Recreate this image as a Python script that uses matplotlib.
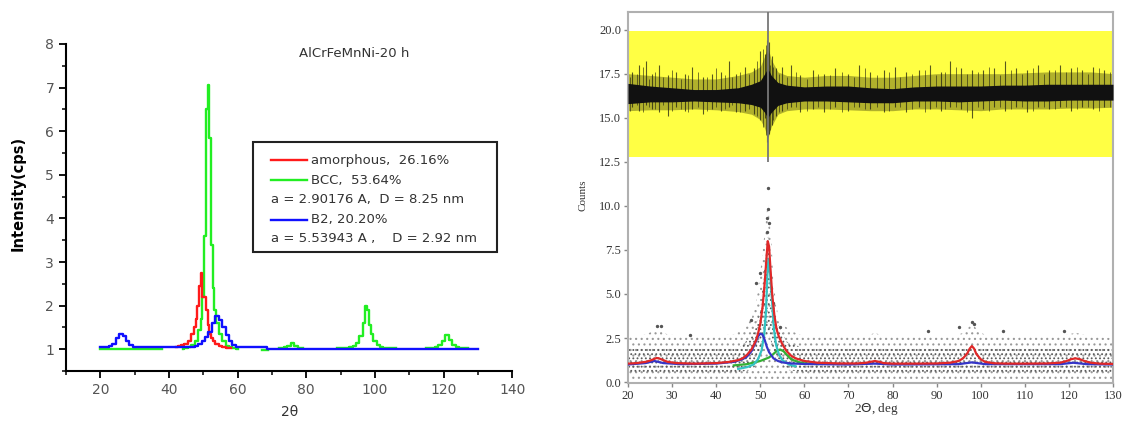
import numpy as np
import matplotlib
matplotlib.use('Agg')
import matplotlib.pyplot as plt
from matplotlib.patches import Rectangle
from matplotlib.ticker import MultipleLocator

# ---- left panel: stepped phase profiles ----
green_a_x = [20, 38]
green_a_y = [1.0, 1.0]
green_b_x = [44, 45, 46, 47, 48, 49, 49.5, 50, 50.5, 51, 51.5, 52, 52.5, 53, 53.5, 54, 55, 56, 57, 58, 59, 60]
green_b_y = [1.0, 1.02, 1.05, 1.1, 1.2, 1.45, 1.7, 2.2, 3.6, 6.5, 7.05, 5.85, 3.4, 2.4, 1.9, 1.6, 1.35, 1.18, 1.08, 1.04, 1.02, 1.0]
green_c_x = [67, 69]
green_c_y = [0.99, 0.99]
green_d_x = [72, 73, 74, 75, 76, 77, 78, 79]
green_d_y = [1.02, 1.02, 1.04, 1.08, 1.14, 1.08, 1.03, 1.02]
green_e_x = [89, 90, 91, 92, 93, 94, 95, 96, 97, 97.5, 98, 98.5, 99, 100, 101, 102, 103, 104, 105, 106]
green_e_y = [1.03, 1.03, 1.03, 1.03, 1.05, 1.08, 1.14, 1.3, 1.6, 1.99, 1.9, 1.55, 1.35, 1.18, 1.1, 1.05, 1.03, 1.03, 1.03, 1.03]
green_f_x = [115, 116, 117, 118, 119, 120, 121, 122, 123, 124, 125, 126, 127]
green_f_y = [1.03, 1.03, 1.03, 1.05, 1.1, 1.2, 1.33, 1.22, 1.1, 1.05, 1.03, 1.03, 1.03]

red_x = [42, 43, 44, 45, 46, 47, 47.5, 48, 48.5, 49, 49.5, 50, 50.5, 51, 51.5, 52, 52.5, 53, 54, 55, 56, 57, 58]
red_y = [1.06, 1.07, 1.09, 1.13, 1.2, 1.35, 1.5, 1.7, 2.0, 2.45, 2.75, 2.2, 2.2, 1.9, 1.55, 1.35, 1.25, 1.18, 1.12, 1.08, 1.05, 1.03, 1.02]

blue_x = [20, 21, 22, 23, 24, 25, 26, 27, 28, 29, 30, 31, 35, 40, 45, 46, 47, 48, 49, 50, 51, 52, 53, 54, 55, 56, 57, 58, 59, 60, 61, 68, 69, 130]
blue_y = [1.04, 1.04, 1.04, 1.08, 1.13, 1.25, 1.34, 1.3, 1.18, 1.1, 1.05, 1.04, 1.04, 1.04, 1.04, 1.05, 1.06, 1.08, 1.12, 1.18, 1.28, 1.4, 1.6, 1.76, 1.68, 1.5, 1.32, 1.18, 1.1, 1.05, 1.04, 1.04, 1.0, 1.0]

legend_labels = ['amorphous,  26.16%', 'BCC,  53.64%', 'a = 2.90176 A,  D = 8.25 nm',
                 'B2, 20.20%', 'a = 5.53943 A ,    D = 2.92 nm']

# ---- right panel: fit curves ----
rfit_x = [20, 22, 24, 25, 26, 26.5, 27, 28, 29, 31, 35, 40, 43, 45, 46, 47, 48, 49, 49.5, 50,
          50.5, 51, 51.4, 51.7, 52, 52.3, 52.7, 53.2, 53.7, 54.2, 55, 56, 57, 58, 60, 63, 68, 72, 74, 75,
          76, 77, 78, 80, 85, 90, 93, 95, 96, 97, 97.5, 98, 98.5, 99, 100, 101, 103, 106, 110, 115,
          118, 119.5, 120.5, 121.5, 122.5, 123.5, 125, 127, 130]
rfit_y = [1.05, 1.08, 1.15, 1.22, 1.32, 1.37, 1.35, 1.25, 1.15, 1.08, 1.05, 1.08, 1.15, 1.25, 1.35, 1.55, 1.85, 2.35, 2.75, 3.3,
          4.2, 5.6, 7.0, 8.0, 7.7, 6.5, 5.0, 3.8, 3.0, 2.6, 2.15, 1.75, 1.5, 1.35, 1.2, 1.1, 1.06, 1.06, 1.1, 1.15,
          1.2, 1.15, 1.08, 1.05, 1.05, 1.06, 1.1, 1.2, 1.35, 1.65, 1.9, 2.05, 1.9, 1.6, 1.3, 1.15, 1.07, 1.05, 1.05, 1.06,
          1.1, 1.2, 1.3, 1.35, 1.3, 1.2, 1.1, 1.05, 1.03]
bfit_x = [20, 24, 26, 28, 32, 40, 44, 46, 47, 48, 49, 49.5, 50, 50.5, 51, 51.5, 52, 53, 54, 55,
          57, 60, 70, 76, 80, 95, 98, 101, 118, 121, 124, 130]
bfit_y = [1.0, 1.08, 1.2, 1.08, 1.02, 1.05, 1.15, 1.3, 1.45, 1.75, 2.3, 2.6, 2.75, 2.7, 2.4, 2.0, 1.7, 1.35, 1.2, 1.12,
          1.06, 1.03, 1.0, 1.05, 1.0, 1.02, 1.12, 1.02, 1.02, 1.1, 1.02, 1.0]
cfit_x = [45, 47, 48.5, 49.5, 50.3, 50.9, 51.3, 51.6, 51.85, 52.2, 52.7, 53.1, 53.6, 54.2, 55, 56.5, 58]
cfit_y = [0.75, 0.85, 1.0, 1.3, 1.8, 2.7, 4.0, 6.0, 7.0, 6.3, 4.5, 3.0, 2.1, 1.6, 1.25, 1.0, 0.9]
gfit_x = [44, 47, 50, 52, 53, 53.8, 54.5, 55.3, 56, 57, 58.5, 60, 63]
gfit_y = [0.95, 1.02, 1.2, 1.4, 1.6, 1.78, 1.85, 1.75, 1.55, 1.3, 1.15, 1.07, 1.02]

# observed counts: envelope of the scattered points
scat_x = [20, 24, 26.5, 29, 35, 44, 46, 48, 49, 50, 51, 51.7, 52.5, 53, 54, 55, 57, 60, 74, 76,
          78, 94, 96, 98, 100, 102, 118, 121.5, 125, 130]
scat_lo = [0.15] * 30
scat_hi = [2.6, 2.7, 3.0, 2.7, 2.6, 2.7, 3.0, 3.6, 4.4, 6.2, 8.5, 10.2, 8.2, 5.6, 3.8, 3.3, 2.9, 2.6, 2.6, 2.8,
           2.6, 2.6, 2.8, 3.3, 2.8, 2.6, 2.6, 2.8, 2.6, 2.5]
core_x = [20, 45, 48, 50, 51.7, 53.5, 56, 60, 130]
core_lo = [0.55, 0.55, 0.7, 1.2, 3.0, 1.3, 0.7, 0.55, 0.55]
core_hi = [1.9, 1.9, 2.6, 4.0, 8.5, 3.5, 2.3, 1.9, 1.9]
outlier_x = [51.7, 51.8, 51.6, 52.0, 51.5, 50.0, 49.0, 53.0, 48.0, 54.5, 26.5, 27.5, 98.0, 98.5, 119.0, 95.0, 88.0, 105.0, 34.0]
outlier_y = [11.0, 9.8, 9.3, 9.0, 8.5, 6.2, 5.6, 4.5, 3.5, 3.1, 3.2, 3.2, 3.4, 3.3, 2.9, 3.1, 2.9, 2.9, 2.7]

# residual (offset) envelope
res_x = [20, 25, 30, 35, 40, 45, 48, 50, 51, 51.7, 52.5, 54, 56, 60, 65, 70, 75, 80, 85, 90,
         95, 100, 105, 110, 115, 120, 125, 130]
res_core_lo = [15.8, 15.9, 15.9, 15.95, 15.9, 15.85, 15.75, 15.6, 15.3, 15.0, 15.3, 15.7, 15.85, 15.95, 15.95, 15.9, 15.85, 15.85, 15.95, 15.95,
               15.9, 15.95, 16.0, 15.95, 15.95, 16.0, 16.0, 16.0]
res_core_hi = [16.95, 16.8, 16.7, 16.6, 16.6, 16.7, 16.9, 17.1, 17.5, 17.8, 17.4, 17.0, 16.85, 16.75, 16.8, 16.8, 16.7, 16.65, 16.75, 16.8,
               16.8, 16.8, 16.85, 16.85, 16.9, 16.9, 16.9, 16.9]
res_out_lo = [15.4, 15.45, 15.45, 15.5, 15.45, 15.35, 15.2, 14.9, 14.4, 13.8, 14.5, 15.2, 15.4, 15.5, 15.5, 15.45, 15.4, 15.4, 15.5, 15.5,
              15.45, 15.4, 15.5, 15.5, 15.5, 15.55, 15.55, 15.6]
res_out_hi = [17.5, 17.4, 17.3, 17.2, 17.2, 17.4, 17.6, 17.9, 18.5, 19.0, 18.3, 17.6, 17.4, 17.3, 17.4, 17.4, 17.3, 17.3, 17.4, 17.5,
              17.5, 17.5, 17.5, 17.55, 17.6, 17.6, 17.6, 17.5]
spike_x = [21, 22.5, 24, 25.5, 27, 29, 31, 33, 34.5, 37, 39, 41, 43, 44.5, 46.5, 48.5, 50, 51, 51.5, 52,
           52.6, 53.5, 55, 57, 59, 62, 64.5, 67, 70, 72.5, 75, 78, 80.5, 83, 86, 88.5, 91, 93, 95.5, 98,
           100.5, 103, 105.5, 108, 110.5, 113, 115.5, 118, 120.5, 123, 125.5, 128]
spike_lo = [15.6, 15.4, 15.7, 15.5, 15.3, 15.1, 15.6, 15.4, 15.5, 15.2, 15.5, 15.4, 15.6, 15.3, 15.4, 15.2, 14.9, 15.0, 13.6, 14.1,
            14.6, 15.1, 15.4, 15.6, 15.3, 15.5, 15.3, 15.6, 15.4, 15.6, 15.5, 15.3, 15.6, 15.3, 15.6, 15.5, 15.4, 15.6, 15.5, 15.0,
            15.5, 15.6, 15.4, 15.6, 15.3, 15.6, 15.5, 15.6, 15.4, 15.6, 15.5, 15.6]
spike_hi = [17.6, 18.0, 18.2, 17.5, 18.0, 17.4, 17.6, 17.5, 17.9, 17.3, 17.5, 17.6, 18.2, 17.5, 17.9, 17.8, 18.8, 18.6, 19.4, 19.3,
            18.5, 17.8, 17.9, 18.0, 17.4, 17.7, 17.5, 17.8, 17.5, 18.0, 17.6, 17.7, 17.9, 17.6, 17.7, 18.0, 17.6, 18.2, 17.8, 17.7,
            17.7, 17.8, 18.2, 17.8, 17.7, 18.0, 17.7, 18.0, 17.8, 17.7, 17.9, 17.7]
fine_x = [20.5, 22, 23.3, 24.7, 26.2, 28, 30, 32, 33.7, 35.8, 38, 40, 42, 43.7, 45.5, 47.5, 49.3, 50.6, 51.2, 51.8,
          52.3, 53, 54.2, 56, 58, 60.5, 63, 65.8, 68.5, 71.3, 73.8, 76.5, 79.3, 81.8, 84.5, 87.3, 89.8, 92, 94.3, 96.8,
          99.3, 101.8, 104.3, 106.8, 109.3, 111.8, 114.3, 116.8, 119.3, 121.8, 124.3, 126.8, 129.3]
fine_lo = [15.4, 15.7, 15.3, 15.6, 15.5, 15.7, 15.4, 15.5, 15.3, 15.6, 15.4, 15.6, 15.5, 15.7, 15.3, 15.5, 15.1, 14.5, 14.0, 13.9,
           14.3, 14.9, 15.3, 15.5, 15.6, 15.4, 15.6, 15.5, 15.3, 15.6, 15.5, 15.6, 15.4, 15.6, 15.5, 15.3, 15.6, 15.5, 15.6, 15.3,
           15.6, 15.4, 15.6, 15.5, 15.6, 15.4, 15.6, 15.5, 15.6, 15.5, 15.6, 15.4, 15.6]
fine_hi = [17.3, 17.5, 17.9, 17.2, 17.6, 17.3, 17.7, 17.2, 17.4, 17.6, 17.3, 17.8, 17.4, 17.3, 17.6, 17.5, 18.2, 18.9, 19.1, 18.7,
           18.0, 17.9, 17.5, 17.3, 17.6, 17.2, 17.5, 17.4, 17.6, 17.3, 17.8, 17.4, 17.6, 17.3, 17.5, 17.7, 17.4, 17.6, 17.9, 17.5,
           17.6, 17.9, 17.4, 17.7, 17.5, 17.8, 17.5, 17.7, 17.6, 17.9, 17.5, 17.8, 17.6]
peak_marker = 51.75

plt.rcParams['hatch.linewidth'] = 0.8
fig = plt.figure(figsize=(11.24, 4.25), dpi=100)

# ================= left =================
ax = fig.add_axes([0.0587, 0.127, 0.397, 0.7695])
lw = 1.7
ax.plot(green_a_x, green_a_y, color='#22ee22', lw=lw)
for gx, gy in [(green_b_x, green_b_y), (green_c_x, green_c_y), (green_d_x, green_d_y),
               (green_e_x, green_e_y), (green_f_x, green_f_y)]:
  ax.plot(gx, gy, color='#22ee22', lw=lw, drawstyle='steps-mid')
ax.plot(red_x, red_y, color='#ff1a1a', lw=lw, drawstyle='steps-mid')
ax.plot(blue_x, blue_y, color='#1010ff', lw=lw, drawstyle='steps-mid')

ax.set_xlim(10, 140)
ax.set_ylim(0.5, 8)
ax.xaxis.set_minor_locator(MultipleLocator(10))
ax.yaxis.set_major_locator(MultipleLocator(1))
ax.yaxis.set_minor_locator(MultipleLocator(0.5))
ax.set_xticks([20, 40, 60, 80, 100, 120, 140])
for s in ['top', 'right']:
  ax.spines[s].set_visible(False)
for s in ['left', 'bottom']:
  ax.spines[s].set_linewidth(1.5)
ax.tick_params(which='major', direction='out', length=5, width=1.3, labelsize=10, labelcolor='#555555')
ax.tick_params(which='minor', direction='out', length=3, width=1.1)
ax.text(0.646, 0.972, 'AlCrFeMnNi-20 h', transform=ax.transAxes, ha='center', va='center',
        fontsize=9.5, color='#333333')
fig.text(0.016, 0.545, 'Intensity(cps)', rotation=90, ha='center', va='center',
         fontsize=10.5, fontweight='bold')
fig.text(0.258, 0.031, '2θ', ha='center', va='center', fontsize=10, color='#333333')

# legend box drawn by hand
ax.add_patch(Rectangle((0.419, 0.364), 0.547, 0.336, transform=ax.transAxes,
                       facecolor='white', edgecolor='#222222', lw=1.5, zorder=5))
rows = [0.644, 0.584, 0.526, 0.462, 0.404]
line_cols = ['#ff1a1a', '#22ee22', None, '#1010ff', None]
for yy, col, lab in zip(rows, line_cols, legend_labels):
  if col is None:
    ax.text(0.4596, yy, lab, transform=ax.transAxes, va='center', fontsize=9.5,
            color='#333333', zorder=6)
  else:
    ax.plot([0.4596, 0.540], [yy, yy], transform=ax.transAxes, color=col, lw=1.7, zorder=6)
    ax.text(0.549, yy, lab, transform=ax.transAxes, va='center', fontsize=9.5,
            color='#333333', zorder=6)

# ================= right =================
ax2 = fig.add_axes([0.5587, 0.0988, 0.4315, 0.873])
ax2.axhspan(12.8, 19.9, color='#ffff44', lw=0, zorder=0)

# residual trace
ax2.fill_between(res_x, res_out_lo, res_out_hi, color='#202000', alpha=0.35, lw=0, zorder=1)
ax2.vlines(fine_x, fine_lo, fine_hi, color='#202010', lw=0.7, alpha=0.6, zorder=2)
ax2.vlines(spike_x, spike_lo, spike_hi, color='#202010', lw=0.8, alpha=0.75, zorder=2)
ax2.fill_between(res_x, res_core_lo, res_core_hi, color='#111111', lw=0, zorder=3)
ax2.vlines(peak_marker, 12.5, 21, color='#777777', lw=1.3, zorder=4)

# observed points
ax2.fill_between(scat_x, scat_lo, scat_hi, facecolor='none', edgecolor='#999999',
                 hatch='...', lw=0, zorder=1)
ax2.fill_between(core_x, core_lo, core_hi, facecolor='none', edgecolor='#5a5a5a',
                 hatch='....', lw=0, zorder=1)
ax2.scatter(outlier_x, outlier_y, s=2, color='#555555', zorder=2)

# fitted components
ax2.plot(gfit_x, gfit_y, color='#33b033', lw=1.6, zorder=5)
ax2.plot(cfit_x, cfit_y, color='#33c4c4', lw=1.6, zorder=5)
ax2.plot(bfit_x, bfit_y, color='#3535c8', lw=1.6, zorder=6)
ax2.plot(rfit_x, rfit_y, color='#e02828', lw=1.6, zorder=7)

ax2.set_xlim(20, 130)
ax2.set_ylim(-0.05, 21)
ax2.xaxis.set_major_locator(MultipleLocator(10))
ax2.yaxis.set_major_locator(MultipleLocator(2.5))
ax2.yaxis.set_major_formatter(plt.FormatStrFormatter('%.1f'))
for s in ax2.spines.values():
  s.set_color('#b0b0b0')
  s.set_linewidth(1.5)
ax2.tick_params(direction='out', length=3, width=1, pad=2, color='#888888', labelsize=9, labelcolor='#333333')
for lab in ax2.get_xticklabels() + ax2.get_yticklabels():
  lab.set_family('Liberation Serif')
fig.text(0.519, 0.541, 'Counts', rotation=90, ha='center', va='center', fontsize=8,
         family='Liberation Serif', color='#333333')
fig.text(0.780, 0.037, '2$\\Theta$, deg', ha='center', va='center', fontsize=9.5,
         family='Liberation Serif', color='#333333')

plt.savefig('out.png', dpi=100)
